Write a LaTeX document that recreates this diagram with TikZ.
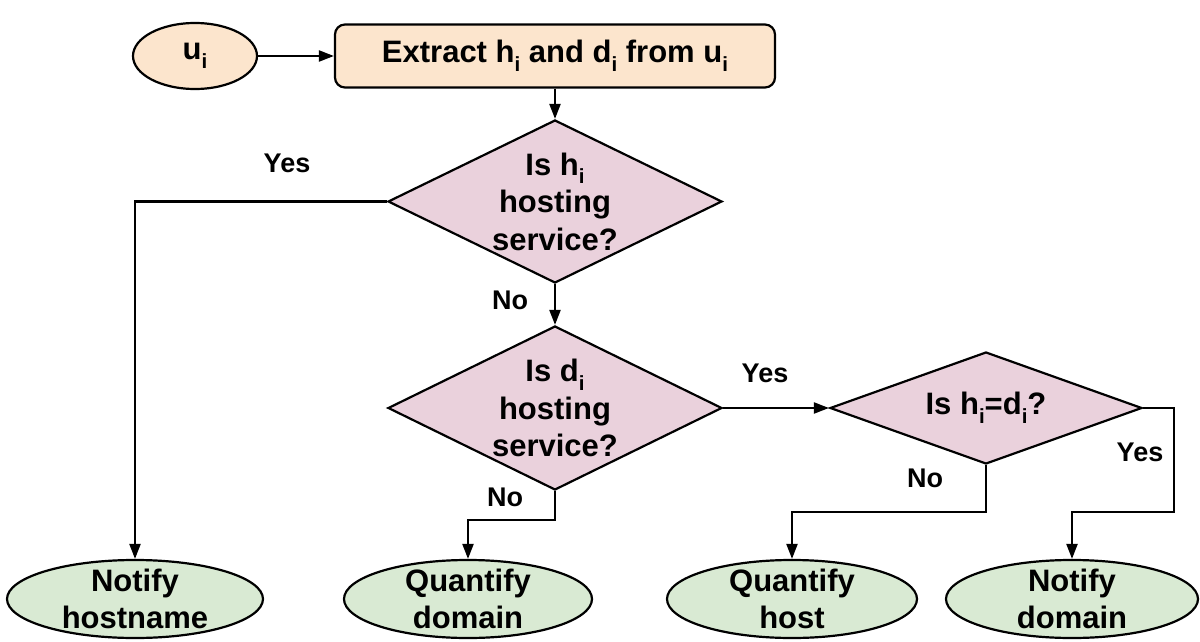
\documentclass[tikz,border=0pt]{standalone}
\usepackage{fontspec}
\setmainfont{Liberation Sans}
\usetikzlibrary{shapes.geometric,arrows.meta}
\definecolor{peach}{HTML}{FCE5CD}
\definecolor{pinkq}{HTML}{EAD1DC}
\definecolor{greenend}{HTML}{D9EAD3}
% lowered subscript "i"
\newcommand\sbi{\raisebox{-8.5pt}{\fontsize{20.5}{20.5}\selectfont i}}

\begin{document}
\begin{tikzpicture}[x=1pt,y=-1pt,line width=2.2pt,
  every node/.style={font=\bfseries\fontsize{31}{37.5}\selectfont, align=center},
  startnode/.style={ellipse, draw, fill=peach, inner sep=0pt},
  procbox/.style={rectangle, rounded corners=10pt, draw, fill=peach, inner sep=0pt},
  question/.style={diamond, draw, fill=pinkq, inner sep=0pt},
  endnode/.style={ellipse, draw, fill=greenend, inner sep=0pt, minimum height=78pt},
  arr/.style={-{Triangle[length=15pt,width=11pt]}},
  lbl/.style={font=\bfseries\fontsize{27}{30}\selectfont}
]
\useasboundingbox (0,0) rectangle (1200,642);

% start and extraction
\node[startnode, minimum width=124pt, minimum height=66pt] (u) at (195,56) {};
\node at (u) {u\sbi};
\node[procbox, minimum width=440pt, minimum height=63pt] (ex) at (555,56)
  {Extract h\sbi{} and d\sbi{} from u\sbi};

% decisions
\node[question, minimum width=334pt, minimum height=163pt,
  label={[align=center]center:{Is h\sbi\\hosting\\service?}}] (q1) at (555,201.5) {};
\node[question, minimum width=334pt, minimum height=164pt,
  label={[align=center]center:{Is d\sbi\\hosting\\service?}}] (q2) at (555,408) {};
\node[question, minimum width=312pt, minimum height=112pt,
  label={[align=center]center:{Is h\sbi=d\sbi?}}] (q3) at (986,408) {};

% outcomes
\node[endnode, minimum width=256pt,
  label={[align=center]center:{Notify\\hostname}}] (nh) at (135,599) {};
\node[endnode, minimum width=248pt,
  label={[align=center]center:{Quantify\\domain}}] (qd) at (468,599) {};
\node[endnode, minimum width=250pt,
  label={[align=center]center:{Quantify\\host}}] (qh) at (792,599) {};
\node[endnode, minimum width=252pt,
  label={[align=center]center:{Notify\\domain}}] (ndm) at (1072,599) {};

% bends
\coordinate (j2) at (555,520);
\coordinate (j3) at (986,512);
\coordinate (j4) at (1174,512);

% connectors
\draw[arr] (u.east) -- (u.east -| ex.west);
\draw[arr] (ex.south) -- (q1.north);
\draw[arr] (q1.west) -| (nh.north);
\draw[arr] (q1.south) -- (q2.north);
\draw[arr] (q2.east) -- (q3.west);
\draw[arr] (q2.south) -- (j2) -| (qd.north);
\draw[arr] (q3.south) -- (j3) -| (qh.north);
\draw[arr] (q3.east) -| (j4) -| (ndm.north);

% branch labels
\node[lbl] (l1) at (287,163) {Yes};
\node[lbl] (l2) at (510,300) {No};
\node[lbl] (l3) at (765,373) {Yes};
\node[lbl] (l4) at (505,497) {No};
\node[lbl] (l5) at (925,478) {No};
\node[lbl] (l6) at (1140,452) {Yes};
\end{tikzpicture}
\end{document}
